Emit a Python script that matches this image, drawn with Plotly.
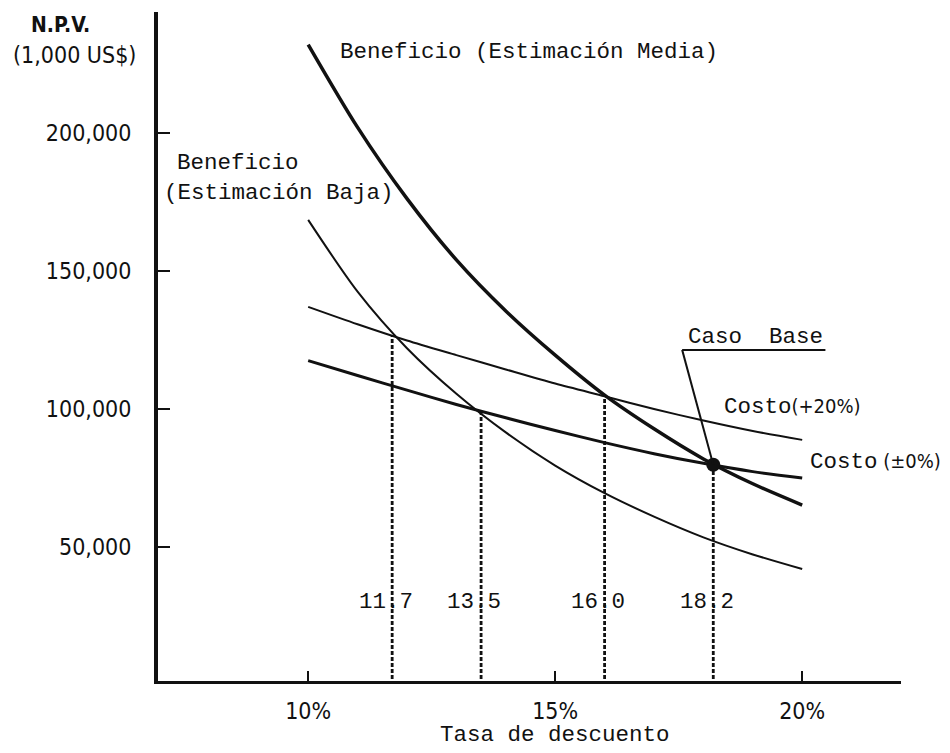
import plotly.graph_objects as go

# ---- data ----
rates = [10, 11, 12, 13, 14, 15, 16, 17, 18, 19, 20]  # discount rate, %
benefit_mid = [232000, 202000, 176200, 154000, 135500, 119500, 105000, 92800, 81900, 72900, 65200]
benefit_low = [168500, 142500, 122000, 105500, 91500, 79500, 69500, 61000, 53500, 47300, 42000]
cost_plus20 = [137000, 130700, 124800, 119500, 114300, 109200, 104600, 100000, 95800, 92000, 88800]
cost_zero = [117500, 112100, 106800, 101600, 96800, 92200, 87800, 83800, 80300, 77300, 75000]

cross_rates = [11.7, 13.5, 16.0, 18.2]
cross_npv = [126600, 99200, 104800, 79800]
cross_labels = ["11.7", "13.5", "16.0", "18.2"]

base_rate = 18.2
base_npv = 79800

y_ticks = [50000, 100000, 150000, 200000]
y_ticktext = ["50,000", "100,000", "150,000", "200,000"]
x_ticks = [10, 15, 20]
x_ticktext = ["10%", "15%", "20%"]

MONO = "Liberation Mono, Courier New, monospace"
COND = "DejaVu Sans Condensed, Roboto, sans-serif"
INK = "#111111"

fig = go.Figure()

def curve(y, w):
    fig.add_trace(go.Scatter(x=rates, y=y, mode="lines",
                             line=dict(color=INK, width=w, shape="spline", smoothing=0.8),
                             hoverinfo="skip", showlegend=False))

curve(benefit_mid, 3.5)
curve(benefit_low, 2)
curve(cost_plus20, 2)
curve(cost_zero, 3)

for xr, yv in zip(cross_rates, cross_npv):
    fig.add_trace(go.Scatter(x=[xr, xr], y=[0, yv], mode="lines",
                             line=dict(color=INK, width=2.8, dash="4px,2px"),
                             hoverinfo="skip", showlegend=False))

fig.add_trace(go.Scatter(x=[base_rate], y=[base_npv], mode="markers",
                         marker=dict(color=INK, size=14), hoverinfo="skip", showlegend=False))

# Caso Base leader + underline
fig.add_shape(type="line", x0=17.57, y0=121400, x1=base_rate, y1=base_npv, line=dict(color=INK, width=2))
fig.add_shape(type="line", x0=17.57, y0=121400, x1=20.47, y1=121400, line=dict(color=INK, width=2))

ann = []
def text(x, y, t, font=MONO, size=22.5, xanchor="left", xshift=0, yshift=0, xref="x", yref="y"):
    ann.append(dict(x=x, y=y, xref=xref, yref=yref, text=t, showarrow=False, xanchor=xanchor,
                    yanchor="middle", xshift=xshift, yshift=yshift,
                    font=dict(family=font, size=size, color=INK)))

SPAN = "<span style='font-family:DejaVu Sans Condensed, Roboto; font-size:20px'>"
text(10.61, 229300, "Beneficio (Estimación Media)")
text(7.31, 189100, "Beneficio")
text(7.04, 178300, "(Estimación Baja)")
text(19.05, 125900, "Caso\u00a0 Base", xanchor="center")
text(18.38, 100600, "Costo" + SPAN + "(+20%)</span>")
text(20.12, 80800, "Costo" + SPAN + " (±0%)</span>")
for xr, lab in zip(cross_rates, cross_labels):
    text(xr, 30100, lab, xanchor="center", xshift=-6.6)
text(15, 0, "Tasa de descuento", xanchor="center", yref="paper", yshift=-54)
text(-0.131, 0.981, "<b>N.P.V.</b>", font=COND, size=21, xanchor="center", xref="paper", yref="paper")
text(-0.112, 0.936, "(1,000 US$)", font=COND, size=23, xanchor="center", xref="paper", yref="paper")

# page body has an 8px margin: plot area lands at x 158..901, y 12..681 on the page
fig.update_layout(
    width=950, height=753,
    margin=dict(l=150, r=57, t=4, b=80),
    paper_bgcolor="white", plot_bgcolor="white",
    annotations=ann,
    xaxis=dict(range=[6.96, 22.0], tickvals=x_ticks, ticktext=x_ticktext, ticks="inside", ticklen=10,
               tickwidth=2, tickcolor=INK, showgrid=False, zeroline=False, showline=True, linecolor=INK,
               linewidth=3, tickfont=dict(family=COND, size=23, color=INK), ticklabelstandoff=7),
    yaxis=dict(range=[1450, 243800], tickvals=y_ticks, ticktext=y_ticktext, ticks="inside", ticklen=12,
               tickwidth=2, tickcolor=INK, showgrid=False, zeroline=False, showline=True, linecolor=INK,
               linewidth=4, tickfont=dict(family=COND, size=23, color=INK), ticklabelstandoff=18),
    showlegend=False,
)

fig.write_html("out.html")
